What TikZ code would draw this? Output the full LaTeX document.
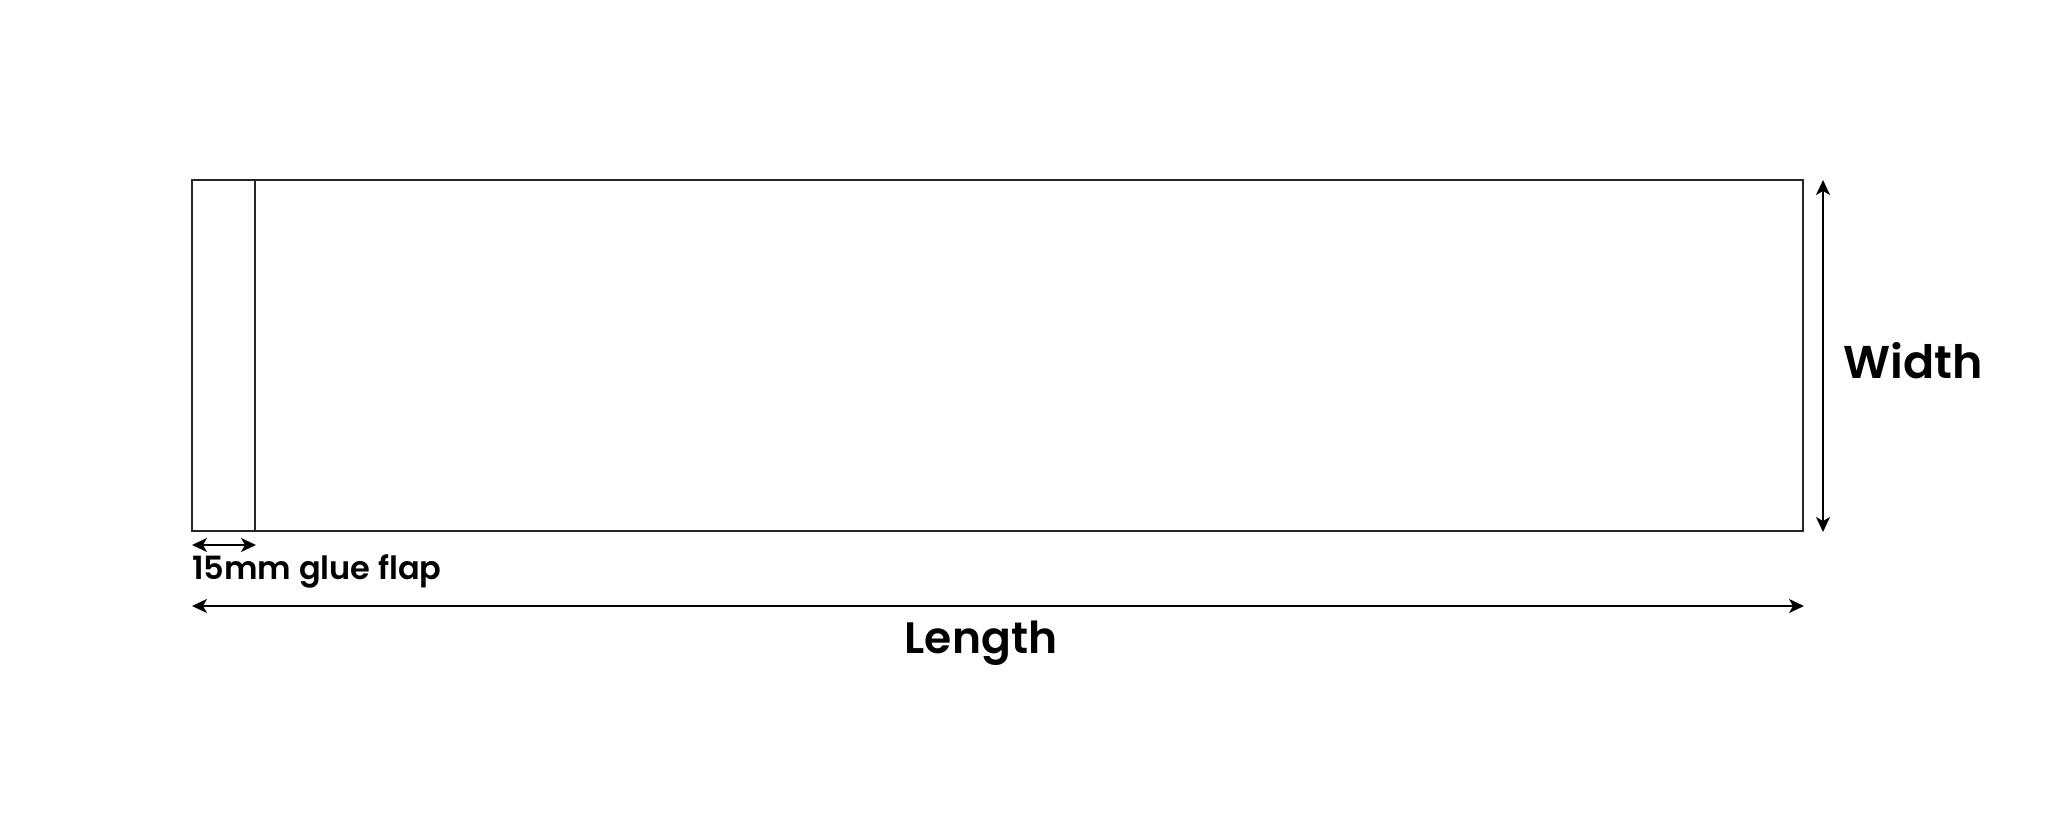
\documentclass[tikz,border=0pt]{standalone}
\usepackage{fontspec}
\setmainfont{Poppins}[BoldFont={Poppins SemiBold}]
\usetikzlibrary{arrows.meta}
\begin{document}
\begin{tikzpicture}[x=1pt,y=-1pt,
  outline/.style={draw=black!85,line width=2pt},
  dim/.style={draw=black,line width=1.8pt,{Stealth[length=15pt,width=14pt,inset=4pt]}-{Stealth[length=15pt,width=14pt,inset=4pt]}},
  lbl/.style={inner sep=0pt,font=\bfseries}]
\useasboundingbox (0,0) rectangle (2048,812);
\coordinate (tl) at (192,180);
\coordinate (br) at (1803,531);
\coordinate (ft) at (255,180);
\coordinate (fb) at (255,531);
\draw[outline] (tl) rectangle (br);
\draw[outline] (ft) -- (fb);
% width dimension
\coordinate (wt) at (1823,180);
\coordinate (wb) at (1823,532);
\draw[dim] (wt) -- (wb);
% glue flap dimension
\coordinate (gl) at (192,545);
\coordinate (gr) at (256,545);
\draw[dim] (gl) -- (gr);
% length dimension
\coordinate (ll) at (192,606);
\coordinate (lr) at (1804,606);
\draw[dim] (ll) -- (lr);
\node[lbl,anchor=base west,font=\fontsize{32}{36}\selectfont\bfseries] (glue) at (192,579) {15mm glue flap};
\node[lbl,anchor=base,font=\fontsize{44}{50}\selectfont\bfseries] (length) at (981,653) {Length};
\node[lbl,anchor=base west,font=\fontsize{46}{52}\selectfont\bfseries] (width) at (1843,378) {Width};
\end{tikzpicture}
\end{document}
